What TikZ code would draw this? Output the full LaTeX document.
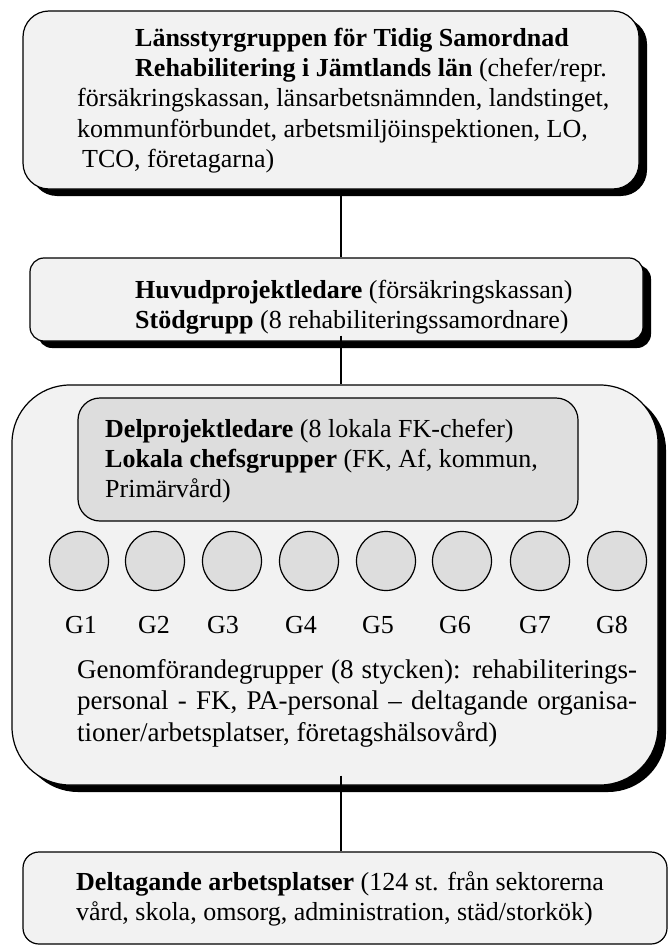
\documentclass[tikz,border=0pt]{standalone}
\usepackage{fontspec}
\setmainfont{Liberation Serif}
\usetikzlibrary{shadows, positioning}
\definecolor{orgpale}{HTML}{F2F2F2}
\definecolor{orggray}{HTML}{DDDDDD}

\begin{document}
\begin{tikzpicture}[x=1pt, y=-1pt,
  orgbox/.style={draw, line width=1.2pt, fill=orgpale, inner sep=0pt},
  shadowed/.style={drop shadow={shadow xshift=8pt, shadow yshift=-7pt, fill=black, opacity=1}},
  txt/.style={anchor=base west, inner sep=0pt, align=left, font=\fontsize{26}{30}\selectfont},
  group/.style={circle, draw, line width=1.2pt, fill=orggray, minimum size=59pt, inner sep=0pt},
  glabel/.style={anchor=base, inner sep=0pt, font=\fontsize{26}{30}\selectfont},
  conn/.style={line width=1.2pt},
]
  \useasboundingbox (0,0) rectangle (669,947);

  \node[orgbox, shadowed, rounded corners=26pt, minimum width=616pt, minimum height=178pt] (styr) at (331,100) {};
  \node[orgbox, shadowed, rounded corners=14pt, minimum width=613pt, minimum height=83pt] (huvud) at (336.5,299.5) {};
  \node[orgbox, shadowed, rounded corners=58pt, minimum width=646pt, minimum height=400pt] (genom) at (335,585) {};
  \node[orgbox, fill=orggray, rounded corners=22pt, minimum width=500pt, minimum height=123pt] (delp) at (328,459.5) {};
  \node[orgbox, rounded corners=16pt, minimum width=644pt, minimum height=92pt] (delt) at (345,898) {};

  % multi-line texts sit on the baseline of their last line
  \node[txt] (styrtext) at (77,167) {\hspace*{58pt}\textbf{Länsstyrgruppen för Tidig Samordnad}\\
    \hspace*{58pt}\textbf{Rehabilitering i Jämtlands län} (chefer/repr.\\
    försäkringskassan, länsarbetsnämnden, landstinget,\\
    kommunförbundet, arbetsmiljöinspektionen, LO,\\
    \hspace*{5pt}TCO, företagarna)};
  \node[txt] (huvudtext) at (135,328) {\textbf{Huvudprojektledare} (försäkringskassan)\\
    \textbf{Stödgrupp} (8 rehabiliteringssamordnare)};
  \node[txt] (delptext) at (105,497) {\textbf{Delprojektledare} (8 lokala FK-chefer)\\
    \textbf{Lokala chefsgrupper} (FK, Af, kommun,\\
    Primärvård)};

  \foreach \i/\cx/\lx in {1/79/81, 2/155/154, 3/232/223, 4/309/301, 5/386/378, 6/462/455, 7/540/535, 8/617/612} {
    \node[group] (g\i) at (\cx,561) {};
    \node[glabel] (g\i label) at (\lx,633) {G\i};
  }

  \node[txt, text width=560pt, align=justify, font=\fontsize{27}{31.5}\selectfont] (genomtext) at (77,678)
    {Genomförandegrupper (8 stycken): rehabiliterings-\linebreak
    personal - FK, PA-personal – deltagande organisa-\linebreak
    tioner/arbetsplatser, företagshälsovård)};
  \node[txt] (delttext) at (76,920) {\textbf{Deltagande arbetsplatser} (124 st. från sektorerna\\
    vård, skola, omsorg, administration, städ/storkök)};

  \coordinate (axis) at (341,0);
  \draw[conn] (styr.south -| axis) -- (huvud.north -| axis);
  \draw[conn, shorten <=-6pt] (huvud.south -| axis) -- (genom.north -| axis);
  \draw[conn, shorten <=-10pt] (genom.south -| axis) -- (delt.north -| axis);
\end{tikzpicture}
\end{document}
